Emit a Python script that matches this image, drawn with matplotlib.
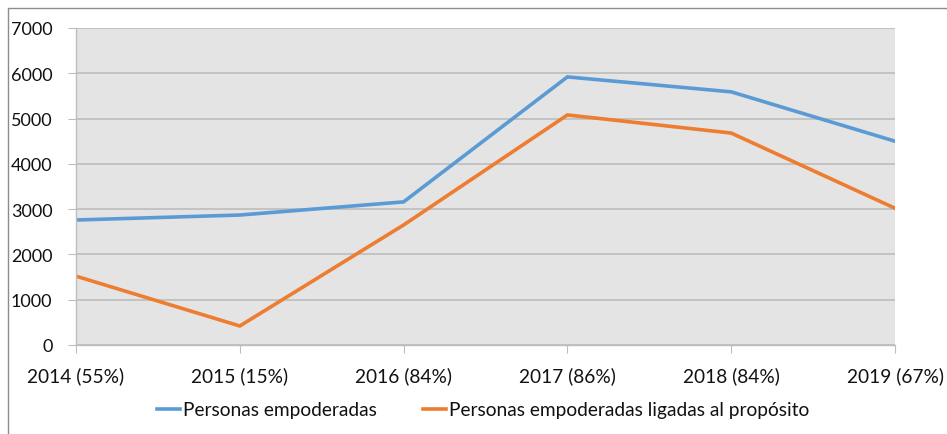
import matplotlib
matplotlib.use("Agg")
import matplotlib.pyplot as plt
from matplotlib.patches import Rectangle

categories = ["2014 (55%)", "2015 (15%)", "2016 (84%)", "2017 (86%)", "2018 (84%)", "2019 (67%)"]
empoderadas = [2760, 2870, 3160, 5920, 5590, 4500]
ligadas = [1520, 420, 2650, 5080, 4680, 3020]
series_names = ["Personas empoderadas", "Personas empoderadas ligadas al propósito"]
yticks = [0, 1000, 2000, 3000, 4000, 5000, 6000, 7000]

plt.rcParams['font.family'] = ['Lato', 'DejaVu Sans']
FS = 13.8

fig = plt.figure(figsize=(9.47, 4.35), dpi=100)
W, H = 947, 435
ax = fig.add_axes([76 / W, 1 - 346 / H, (895 - 76) / W, (346 - 29) / H])
ax.set_facecolor('#E4E4E4')

x = list(range(len(categories)))
ax.plot(x, empoderadas, color='#5B9BD5', lw=2.6, label=series_names[0], solid_joinstyle='miter')
ax.plot(x, ligadas, color='#ED7D31', lw=2.6, label=series_names[1], solid_joinstyle='miter')

ax.set_xlim(0, len(categories) - 1)
ax.set_ylim(0, 7000)
ax.set_yticks(yticks)
ax.set_yticklabels([str(v) for v in yticks], fontsize=13, color='#111111')
ax.set_xticks(x)
ax.set_xticklabels(categories, fontsize=FS, color='#111111')
ax.yaxis.grid(True, color='#BDBDBD', lw=1.2)
ax.set_axisbelow(True)
for s in ['top', 'right']:
    ax.spines[s].set_visible(False)
ax.spines['left'].set_color('#BDBDBD')
ax.spines['bottom'].set_color('#BDBDBD')
ax.spines['left'].set_linewidth(1.0)
ax.spines['bottom'].set_linewidth(1.0)
ax.tick_params(axis='y', length=6, color='#BDBDBD', pad=11)
ax.tick_params(axis='x', direction='out', length=6, color='#BDBDBD', pad=9)

leg = fig.legend(loc='center', bbox_to_anchor=(0.51, 1 - 411 / H), ncol=2, frameon=False,
                 fontsize=FS, handlelength=1.2, handletextpad=0.15, columnspacing=2.4)
for t in leg.get_texts():
    t.set_color('#111111')

# outer frame
fig.patches.append(Rectangle((8 / W, -0.1), 1.2, 1 - 9 / H + 0.1, transform=fig.transFigure,
                             fill=False, edgecolor='#8C8C8C', lw=1.0, zorder=-1))

fig.savefig('out.png', dpi=100)
